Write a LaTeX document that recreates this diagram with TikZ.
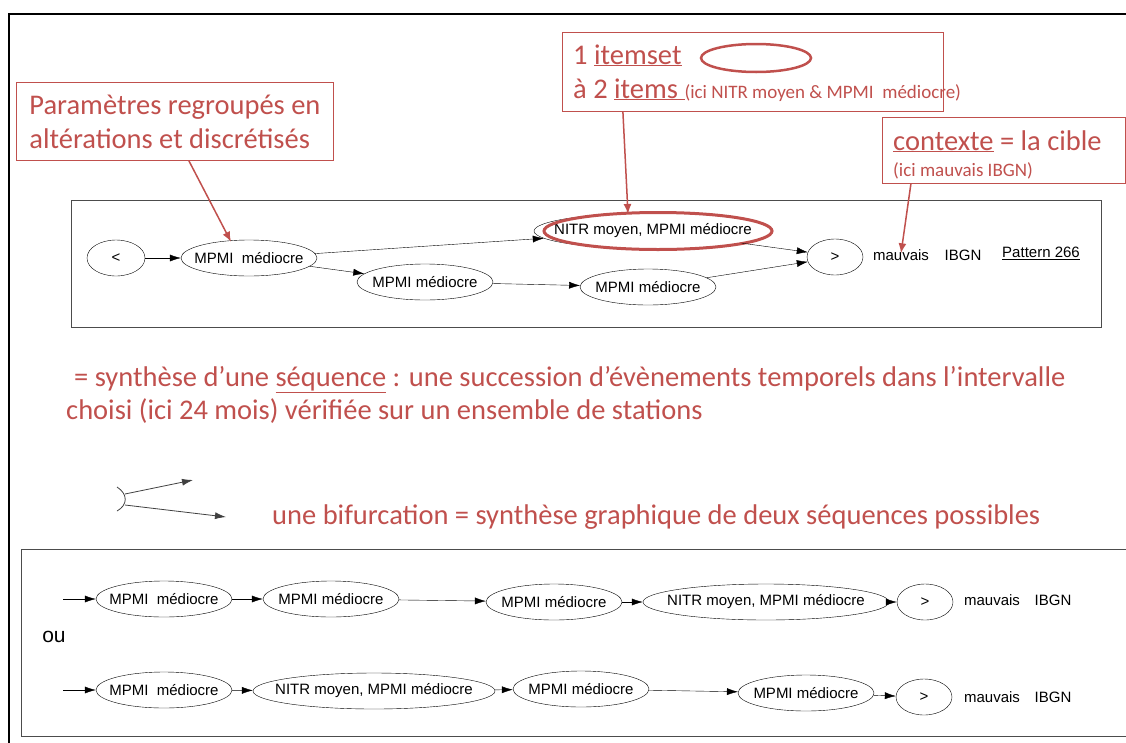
\documentclass[tikz,border=0pt]{standalone}
\usepackage{fontspec}
\setmainfont{Carlito}
\newfontfamily\arial{Liberation Sans}
\usetikzlibrary{shapes.geometric,arrows.meta,positioning}
\definecolor{rouge}{HTML}{C0504D}
\newcommand\etq[1]{\makebox[0pt]{#1}}

\begin{document}
\begin{tikzpicture}[x=1pt,y=-1pt]
\tikzstyle{every node}+=[inner sep=0pt]
\tikzstyle{etat}=[draw,ellipse,minimum height=36pt,font=\arial\fontsize{15}{17}\selectfont]
\tikzstyle{txt}=[font=\arial\fontsize{15}{17}\selectfont]
\tikzstyle{fl}=[-{Latex[length=11pt,width=7pt]}]
\tikzstyle{cadre}=[draw=rouge,line width=0.8pt]
\tikzstyle{rtxt}=[text=rouge,font=\fontsize{28.5}{34}\selectfont]
\tikzstyle{rpetit}=[text=rouge,font=\fontsize{19}{22}\selectfont]
\tikzstyle{rfl}=[rouge,line width=1.5pt,-{Latex[length=10pt,width=8pt]}]
\useasboundingbox (0,0) rectangle (1126,742);
% cadres noirs
\draw[line width=1.6pt] (9,746) -- (9,14) -- (1130,14);
\draw[black!70] (71,200) rectangle (1101,327);
\draw[black!70] (21,549) rectangle (1130,736);
% motif 266
\node[etat,minimum width=58pt] (debut) at (116,258) {\etq{<}};
\node[etat,minimum width=136pt] (a1) at (249,258) {\etq{MPMI~ médiocre}};
\node[etat,minimum width=238pt] (a2) at (653,231) {\etq{NITR moyen, MPMI médiocre}};
\node[draw=rouge,line width=3pt,ellipse,minimum width=228pt,minimum height=37pt] (a2r) at (658,231) {};
\node[etat,minimum width=136pt] (a3) at (425,282) {\etq{MPMI médiocre}};
\node[etat,minimum width=136pt] (a4) at (648,287) {\etq{MPMI médiocre}};
\node[etat,minimum width=56pt] (fin) at (835,257) {\etq{>}};
\node[txt] (mauv) at (901,255) {mauvais};
\node[txt] (ibgn) at (963,255) {IBGN};
\node[txt] (patt) at (1041,253) {\underline{Pattern 266}};
\draw[fl] (debut) -- (a1);
\draw[fl] (a1) -- (a2);
\draw[fl] (a1) -- (a3);
\draw[fl] (a3) -- (a4);
\draw[fl] (a2) -- (fin.170);
\draw[fl] (a4) -- (fin.190);
% encadres rouges
\node[cadre,rtxt,anchor=north west,minimum width=317pt,minimum height=78pt,inner xsep=12pt,align=left] (param) at (16,82) {Paramètres regroupés en\\altérations et discrétisés};
\node[cadre,anchor=north west,minimum width=381pt,minimum height=79pt] (itembox) at (562,32) {};
\node[rtxt,anchor=base west] (itemset) at (573,64) {1 \underline{itemset}};
\node[draw=rouge,line width=2.5pt,ellipse,minimum width=110pt,minimum height=28pt] (ovale) at (756,58) {};
\node[rtxt,anchor=base west] (items) at (573,98) {à 2 \underline{items\ }{\fontsize{19}{22}\selectfont(ici NITR moyen \& MPMI~ médiocre)}};
\node[cadre,anchor=north west,minimum width=243pt,minimum height=66pt] (ctxbox) at (882,117) {};
\node[rtxt,anchor=base west] (ctx) at (893,150) {\underline{contexte} = la cible};
\node[rpetit,anchor=base west] (ctxici) at (893,176) {(ici mauvais IBGN)};
\draw[rfl] ([xshift=14pt]param.south) -- ([xshift=-18pt,yshift=-2pt]a1.north);
\draw[rfl] ([xshift=-130pt]itembox.south) -- ([xshift=-30pt,yshift=-3pt]a2r.north);
\draw[rfl] ([xshift=-93pt]ctxbox.south) -- ([yshift=-4pt]mauv.north);
% textes
\node[rtxt,anchor=base west] (synth1) at (74,386) {= synthèse d’une \underline{séquence} : une succession d’évènements temporels dans l’intervalle};
\node[rtxt,anchor=base west] (synth2) at (66,419) {choisi (ici 24 mois) vérifiée sur un ensemble de stations};
% bifurcation
\coordinate (bh) at (125,494);
\coordinate (bb) at (125,505);
\coordinate (bh2) at (193,480);
\coordinate (bb2) at (226,517);
\draw[black!75,line width=0.8pt] (117,487) .. controls (128,494) and (128,505) .. (117,511);
\draw[fl,black!75,line width=0.8pt] (bh) -- (bh2);
\draw[fl,black!75,line width=0.8pt] (bb) -- (bb2);
\node[rtxt,anchor=base west] (bifurc) at (272,524) {une bifurcation = synthèse graphique de deux séquences possibles};
% deux sequences
\coordinate (e1) at (63,599);
\node[etat,minimum width=136pt] (b1) at (164,599) {\etq{MPMI~ médiocre}};
\node[etat,minimum width=136pt] (b2) at (331,599) {\etq{MPMI médiocre}};
\node[etat,minimum width=136pt] (b3) at (554,602) {\etq{MPMI médiocre}};
\node[etat,minimum width=246pt] (b4) at (766,602) {\etq{NITR moyen, MPMI médiocre}};
\node[etat,minimum width=56pt] (b5) at (925,602) {\etq{>}};
\node[txt] (bm) at (992,600) {mauvais};
\node[txt] (bi) at (1053,600) {IBGN};
\draw[fl] (e1) -- (b1);
\draw[fl] (b1) -- (b2);
\draw[fl] (b2) -- (b3);
\draw[fl] (b3) -- (b4);
\draw[fl] (b4) -- (b5);
\node[font=\arial\fontsize{21}{23}\selectfont] (ou) at (54,637) {ou};
\coordinate (e2) at (63,690);
\node[etat,minimum width=136pt] (c1) at (164,690) {\etq{MPMI~ médiocre}};
\node[etat,minimum width=242pt] (c2) at (374,691) {\etq{NITR moyen, MPMI médiocre}};
\node[etat,minimum width=136pt] (c3) at (581,689) {\etq{MPMI médiocre}};
\node[etat,minimum width=136pt] (c4) at (806,693) {\etq{MPMI médiocre}};
\node[etat,minimum width=56pt] (c5) at (924,697) {\etq{>}};
\node[txt] (cm) at (992,697) {mauvais};
\node[txt] (ci) at (1053,697) {IBGN};
\draw[fl] (e2) -- (c1);
\draw[fl] (c1) -- (c2);
\draw[fl] (c2) -- (c3);
\draw[fl] (c3) -- (c4);
\draw[fl] (c4) -- (c5);
\end{tikzpicture}
\end{document}
